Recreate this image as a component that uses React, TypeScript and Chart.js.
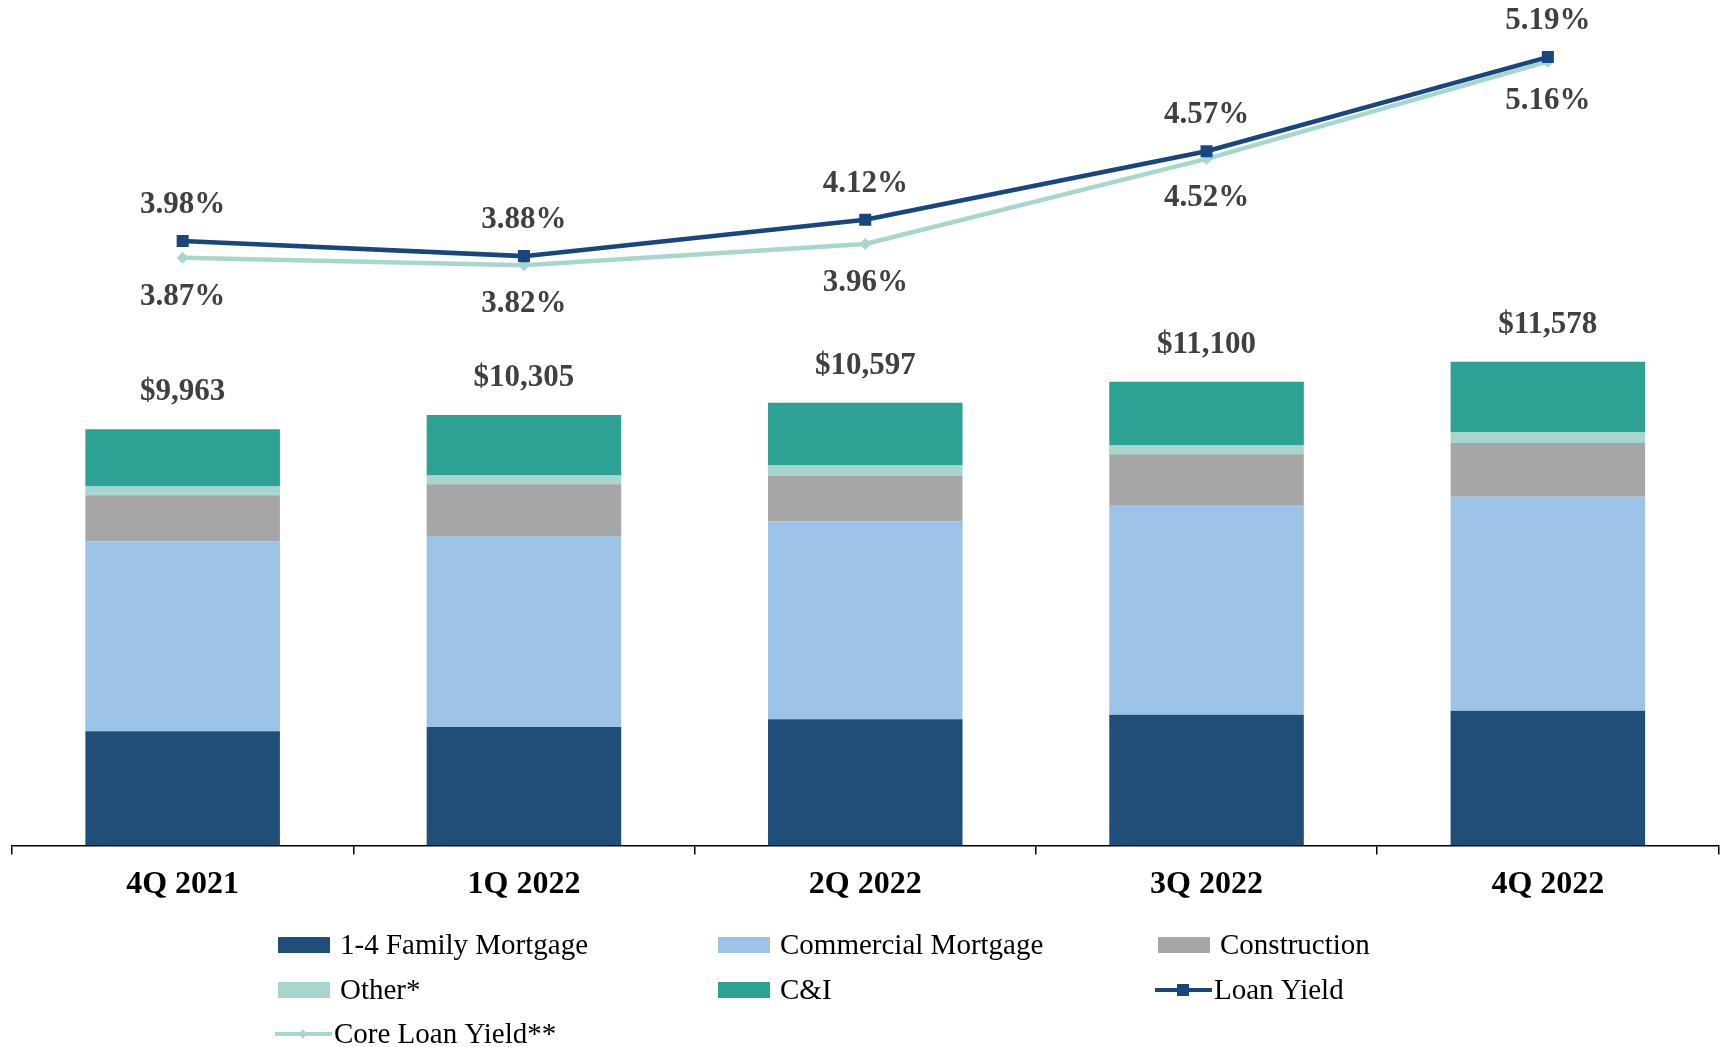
import React, { useEffect, useRef } from "react";
import { Chart, registerables } from "chart.js";

Chart.register(...registerables);

const categories = ["4Q 2021", "1Q 2022", "2Q 2022", "3Q 2022", "4Q 2022"];
const familyMortgage = [2734, 2839, 3024, 3131, 3229];
const commercialMortgage = [4548, 4574, 4733, 5023, 5120];
const construction = [1104, 1236, 1104, 1210, 1286];
const otherLoans = [210, 210, 237, 210, 263];
const cAndI = [1367, 1446, 1499, 1526, 1680];
const loanYield = [3.98, 3.88, 4.12, 4.57, 5.19];
const coreLoanYield = [3.87, 3.82, 3.96, 4.52, 5.16];

const barSeries = [
  { label: "1-4 Family Mortgage", data: familyMortgage, color: "#1F4E79" },
  { label: "Commercial Mortgage", data: commercialMortgage, color: "#9DC3E6" },
  { label: "Construction", data: construction, color: "#A6A6A6" },
  { label: "Other*", data: otherLoans, color: "#A7D6CE" },
  { label: "C&I", data: cAndI, color: "#2CA194" },
];

const FONT = "'Liberation Serif', 'Times New Roman', serif";
const LABEL_COLOR = "#404040";
const LOAN_COLOR = "#17477E";
const CORE_COLOR = "#A7D6CE";

const labelsPlugin = {
  id: "valueLabels",
  afterDatasetsDraw(chart: any) {
    const ctx = chart.ctx;
    ctx.save();
    ctx.font = `bold 31px ${FONT}`;
    ctx.fillStyle = LABEL_COLOR;
    ctx.textAlign = "center";
    ctx.textBaseline = "middle";
    const topMeta = chart.getDatasetMeta(4);
    topMeta.data.forEach((el: any, i: number) => {
      const total = barSeries.reduce((s, b) => s + b.data[i], 0);
      ctx.fillText("$" + total.toLocaleString("en-US"), el.x, el.y - 37);
    });
    const loanMeta = chart.getDatasetMeta(5);
    loanMeta.data.forEach((el: any, i: number) => {
      ctx.fillText(loanYield[i].toFixed(2) + "%", el.x, el.y - 36);
    });
    const coreMeta = chart.getDatasetMeta(6);
    coreMeta.data.forEach((el: any, i: number) => {
      ctx.fillText(coreLoanYield[i].toFixed(2) + "%", el.x, el.y + 39);
    });
    ctx.restore();
  },
};

const legendPlugin = {
  id: "gridLegend",
  afterDraw(chart: any) {
    const ctx = chart.ctx;
    const cols = [278, 718, 1158];
    const rows = [945, 990, 1034];
    ctx.save();
    ctx.font = `29px ${FONT}`;
    ctx.fillStyle = "#000";
    ctx.textBaseline = "middle";
    ctx.textAlign = "left";
    const items: any[] = barSeries.map((b) => ({ label: b.label, color: b.color, kind: "box" }));
    items.push({ label: "Loan Yield", color: LOAN_COLOR, kind: "rect" });
    items.push({ label: "Core Loan Yield**", color: CORE_COLOR, kind: "diamond" });
    items.forEach((it, idx) => {
      const x = cols[idx % 3];
      const y = rows[Math.floor(idx / 3)];
      if (it.kind === "box") {
        ctx.fillStyle = it.color;
        ctx.fillRect(x, y - 8, 52, 16);
        ctx.fillStyle = "#000";
        ctx.fillText(it.label, x + 62, y + 1);
      } else {
        const x0 = x - 3;
        ctx.strokeStyle = it.color;
        ctx.lineWidth = 4;
        ctx.beginPath();
        ctx.moveTo(x0, y);
        ctx.lineTo(x0 + 57, y);
        ctx.stroke();
        ctx.fillStyle = it.color;
        const cx = x0 + 28;
        if (it.kind === "rect") {
          ctx.fillRect(cx - 6, y - 6, 12, 12);
        } else {
          ctx.beginPath();
          ctx.moveTo(cx, y - 5);
          ctx.lineTo(cx + 4, y);
          ctx.lineTo(cx, y + 5);
          ctx.lineTo(cx - 4, y);
          ctx.closePath();
          ctx.fill();
        }
        ctx.fillStyle = "#000";
        ctx.fillText(it.label, x0 + 59, y + 1);
      }
    });
    ctx.restore();
  },
};

export default function App() {
  const ref = useRef<HTMLCanvasElement | null>(null);
  useEffect(() => {
    if (!ref.current) return;
    const lines: any[] = [
      {
        type: "line",
        label: "Loan Yield",
        data: loanYield,
        yAxisID: "y2",
        borderColor: LOAN_COLOR,
        backgroundColor: LOAN_COLOR,
        borderWidth: 4.5,
        pointStyle: "rect",
        pointRadius: 8.5,
        pointBackgroundColor: LOAN_COLOR,
        pointBorderWidth: 0,
        order: 0,
      },
      {
        type: "line",
        label: "Core Loan Yield**",
        data: coreLoanYield,
        yAxisID: "y2",
        borderColor: CORE_COLOR,
        backgroundColor: CORE_COLOR,
        borderWidth: 4.5,
        pointStyle: "rectRot",
        pointRadius: 6,
        pointBackgroundColor: CORE_COLOR,
        pointBorderWidth: 0,
        order: 0,
      },
    ];
    const bars = barSeries.map((b) => ({
      type: "bar",
      label: b.label,
      data: b.data,
      backgroundColor: b.color,
      borderWidth: 0,
      stack: "loans",
      yAxisID: "y",
      barPercentage: 0.57,
      categoryPercentage: 1,
      order: 1,
    }));
    const chart = new Chart(ref.current, {
      type: "bar",
      data: { labels: categories, datasets: [...bars, ...lines] as any },
      options: {
        animation: false,
        responsive: false,
        devicePixelRatio: 1,
        layout: { padding: { left: 12, right: 3, top: 10, bottom: 132 } },
        plugins: {
          legend: { display: false },
          tooltip: { enabled: false },
        },
        scales: {
          x: {
            stacked: true,
            grid: {
              offset: true,
              drawOnChartArea: false,
              drawTicks: true,
              tickLength: 9,
              color: "#000",
              lineWidth: 1.5,
            },
            border: { display: true, color: "#000", width: 1.5 },
            ticks: {
              color: "#000",
              padding: 11,
              font: { family: FONT, size: 32, weight: "bold" },
            },
          },
          y: { stacked: true, display: false, min: 0, max: 20000 },
          y2: { display: false, min: 0, max: 5.5 },
        },
      } as any,
      plugins: [labelsPlugin, legendPlugin],
    });
    return () => chart.destroy();
  }, []);
  return (
    <div style={{ position: "fixed", left: 0, top: 0, width: 1727, height: 1047, background: "#fff" }}>
      <canvas ref={ref} width={1727} height={1047} />
    </div>
  );
}
